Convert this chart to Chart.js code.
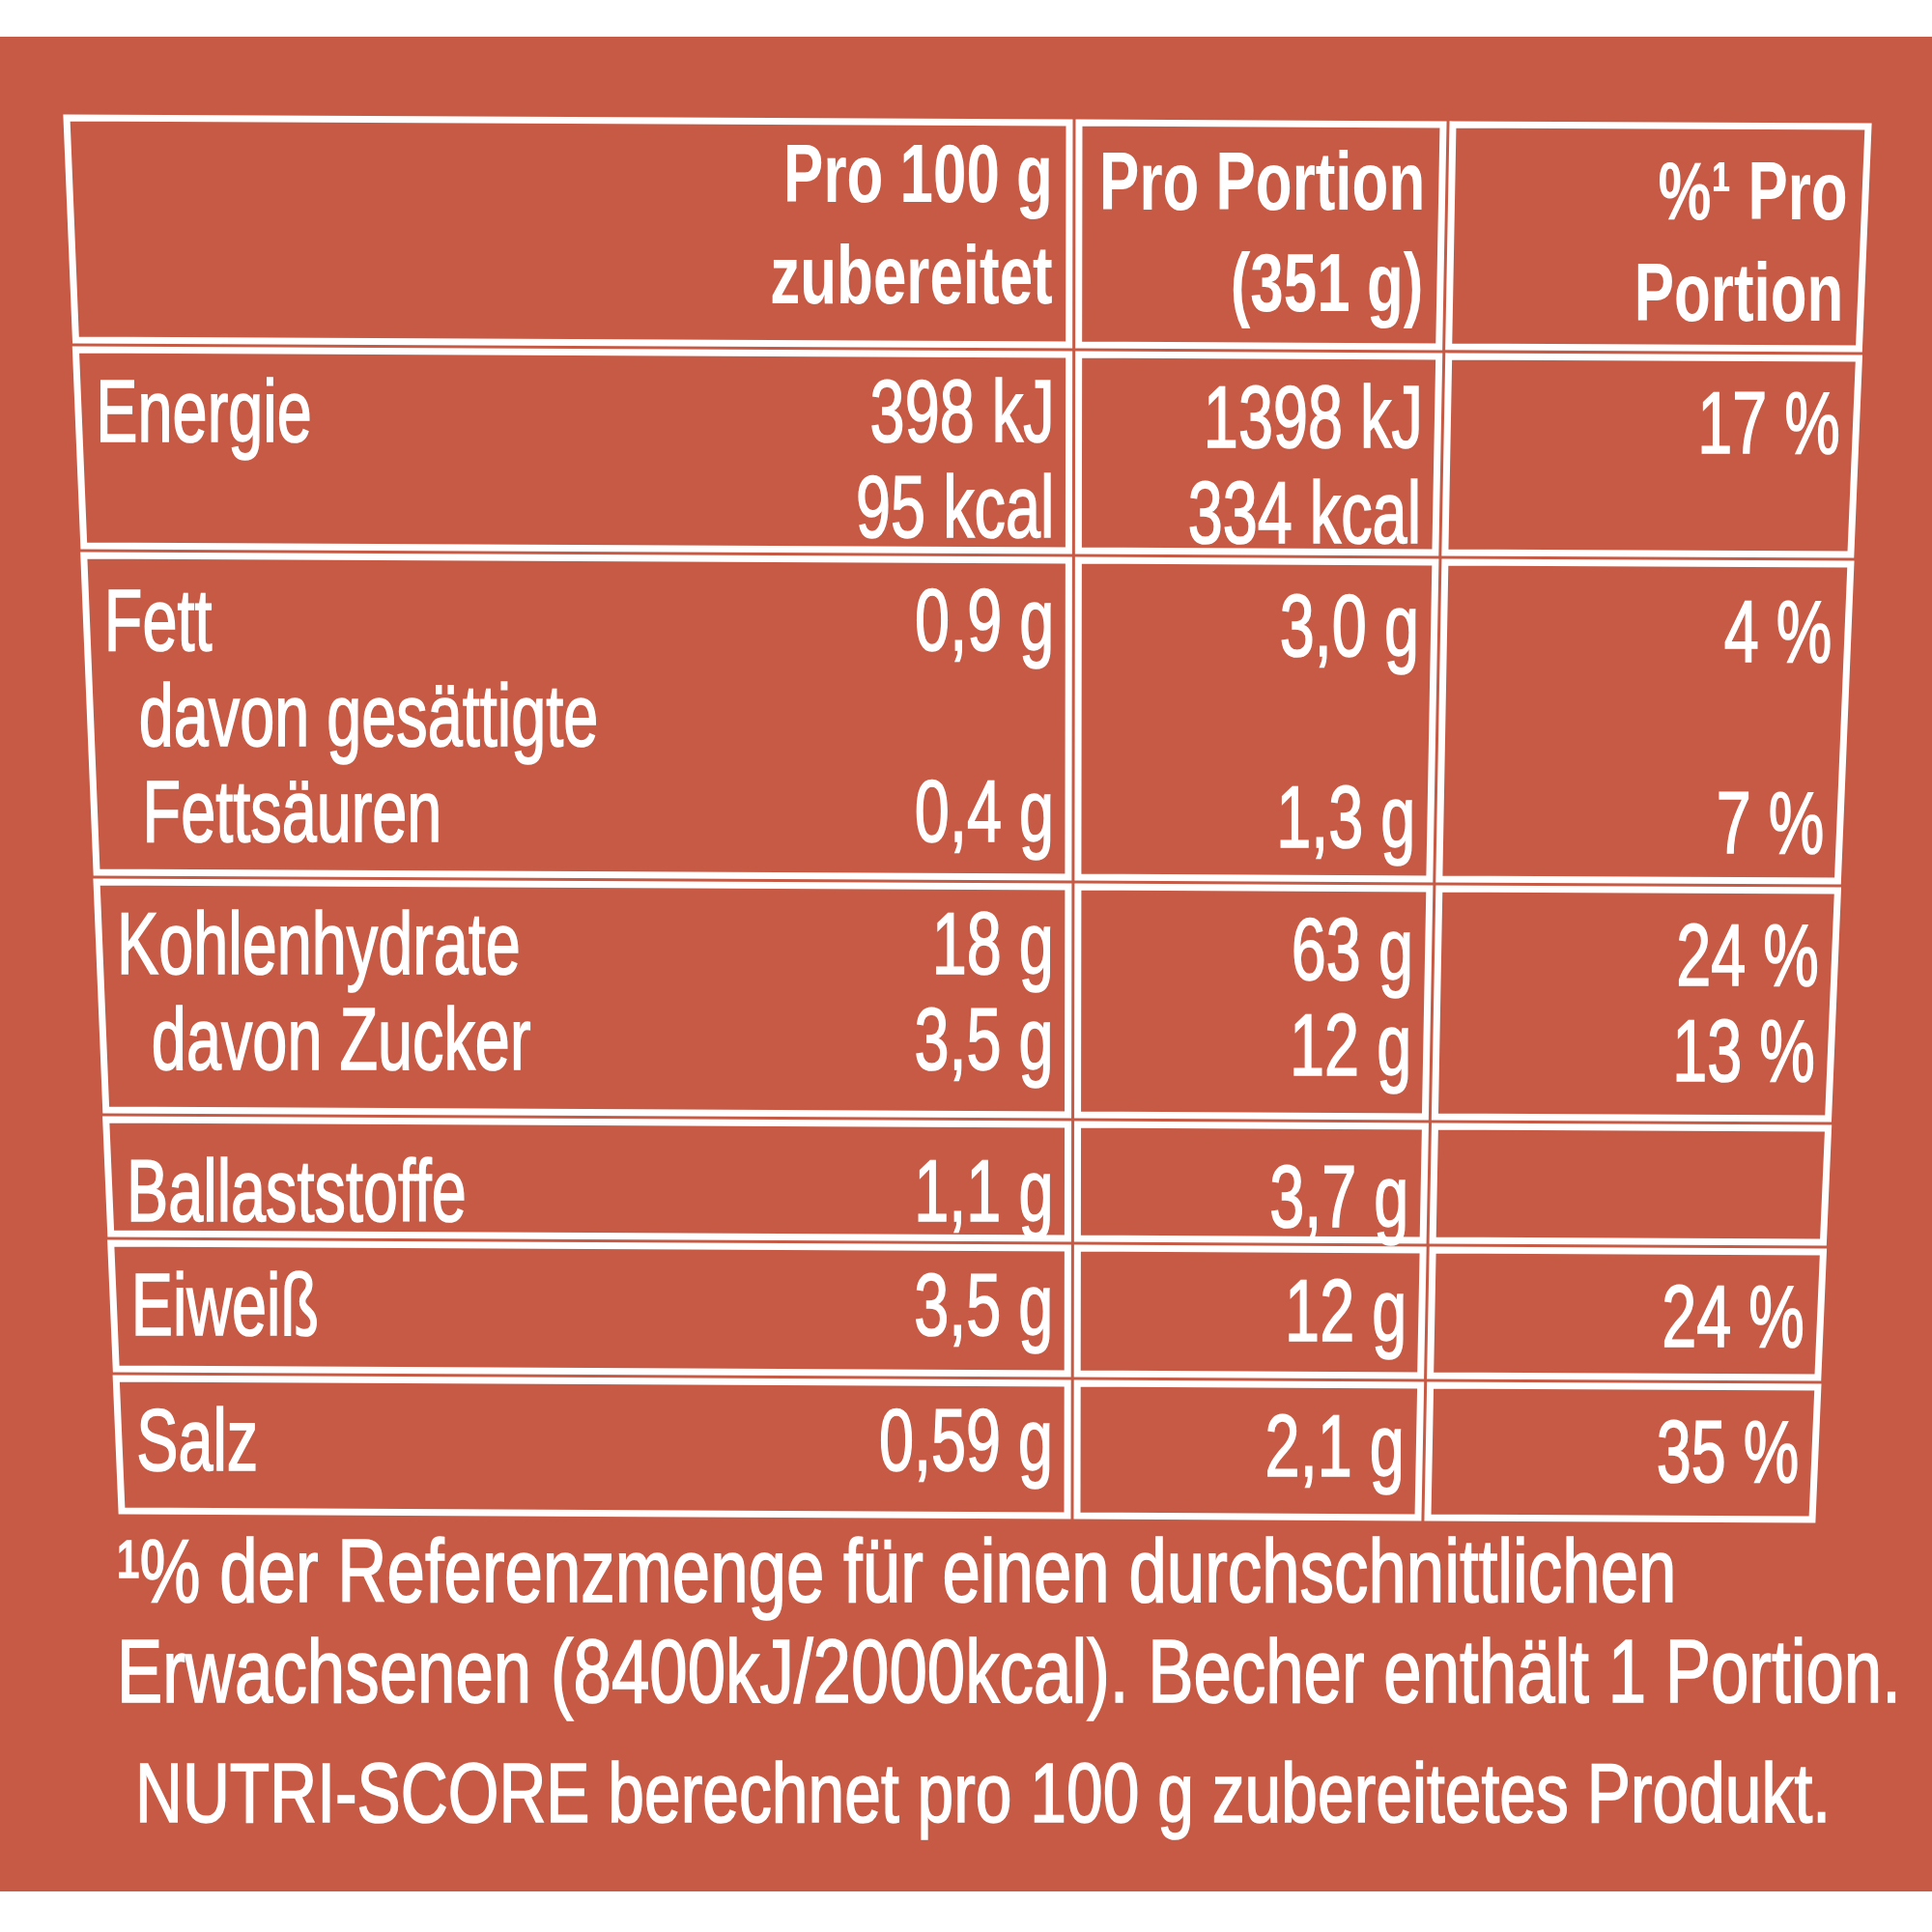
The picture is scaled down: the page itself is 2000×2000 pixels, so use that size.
<!DOCTYPE html>
<html><head><meta charset="utf-8">
<script src="https://cdn.jsdelivr.net/npm/chart.js@4.4.0/dist/chart.umd.min.js"></script>
<style>html,body{margin:0;background:#fff}#wrap{width:2000px;height:2000px}</style>
</head><body><div id="wrap"><canvas id="c" width="2000" height="2000"></canvas></div>
<script>
// data
const headers = [["Pro 100 g", "zubereitet"], ["Pro Portion", "(351 g)"], ["%¹ Pro", "Portion"]];
const labels = [["Energie"], ["Fett", " davon gesättigte", " Fettsäuren"], ["Kohlenhydrate", " davon Zucker"], ["Ballaststoffe"], ["Eiweiß"], ["Salz"]];
const per100 = [["398 kJ", "95 kcal"], ["0,9 g", "", "0,4 g"], ["18 g", "3,5 g"], ["1,1 g"], ["3,5 g"], ["0,59 g"]];
const perPortion = [["1398 kJ", "334 kcal"], ["3,0 g", "", "1,3 g"], ["63 g", "12 g"], ["3,7 g"], ["12 g"], ["2,1 g"]];
const percent = [["17 %"], ["4 %", "", "7 %"], ["24 %", "13 %"], [""], ["24 %"], ["35 %"]];
const footnote = ["¹% der Referenzmenge für einen durchschnittlichen", "Erwachsenen (8400kJ/2000kcal). Becher enthält 1 Portion.", "NUTRI-SCORE berechnet pro 100 g zubereitetes Produkt."];

// layout (pixels in scale units)
const rowLines = [117, 357, 570, 908, 1154, 1282, 1422, 1569];
const edgeTop = [64, 1112, 1499, 1939];
const edgeBot = [121, 1110, 1473, 1881];
const firstBase = [92, 100, 103, 100, 110, 100, 100];
const lineStep = 99;
const RED = '#c65a45';

const tablePlugin = {
  id: 'table',
  beforeDraw(chart) {
    const {ctx} = chart;
    ctx.save();
    ctx.fillStyle = '#fff'; ctx.fillRect(0, 0, 2000, 2000);
    ctx.fillStyle = RED;
    ctx.fillRect(0, chart.scales.y.getPixelForValue(38), 2000, chart.scales.y.getPixelForValue(1958) - chart.scales.y.getPixelForValue(38));
    ctx.restore();
  },
  afterDraw(chart) {
    const {ctx} = chart, xs = chart.scales.x, ys = chart.scales.y;
    const t0 = rowLines[0], t1 = rowLines[rowLines.length - 1];
    const colX = (c, yv) => { const t = (yv - t0) / (t1 - t0); return xs.getPixelForValue(edgeTop[c] + (edgeBot[c] - edgeTop[c]) * t); };
    const pt = (c, r) => {
      const yv = rowLines[r];
      const u = (colX(c, yv) - colX(0, yv)) / (colX(3, yv) - colX(0, yv));
      return [colX(c, yv), ys.getPixelForValue(yv + 9 * u)];
    };
    ctx.save();
    ctx.strokeStyle = '#fff'; ctx.lineWidth = 7; ctx.lineJoin = 'miter';
    const ins = 5;
    for (let r = 0; r < rowLines.length - 1; r++) {
      for (let c = 0; c < 3; c++) {
        const a = pt(c, r), b = pt(c + 1, r), d = pt(c + 1, r + 1), e = pt(c, r + 1);
        ctx.beginPath();
        ctx.moveTo(a[0] + ins, a[1] + ins); ctx.lineTo(b[0] - ins, b[1] + ins);
        ctx.lineTo(d[0] - ins, d[1] - ins); ctx.lineTo(e[0] + ins, e[1] - ins);
        ctx.closePath(); ctx.stroke();
      }
    }
    ctx.fillStyle = '#fff'; ctx.strokeStyle = '#fff'; ctx.textBaseline = 'alphabetic';
    const txt = (s, x, y, align, bold, size, sx) => {
      ctx.save();
      ctx.font = (bold ? 'bold ' : '') + size + 'px "Liberation Sans", Arial, sans-serif';
      ctx.translate(x, y); ctx.scale(sx || 0.72, 1);
      ctx.textAlign = align; ctx.fillText(s, 0, 0);
      if (!bold) { ctx.lineWidth = 1.6; ctx.strokeText(s, 0, 0); }
      ctx.restore();
    };
    const cols = [per100, perPortion, percent];
    // header
    for (let i = 0; i < 2; i++) {
      for (let c = 0; c < 3; c++) {
        const yv = rowLines[0] + firstBase[0] + i * 105 + (c === 2 ? 18 : c === 1 ? 8 : 0);
        txt(headers[c][i], colX(c + 1, yv) - 22, ys.getPixelForValue(yv), 'right', true, 86);
      }
    }
    for (let r = 1; r < rowLines.length - 1; r++) {
      const k = r - 1;
      const n = Math.max(labels[k].length, per100[k].length, perPortion[k].length, percent[k].length);
      for (let i = 0; i < n; i++) {
        const yv = rowLines[r] + firstBase[r] + i * lineStep;
        const s = labels[k][i];
        if (s) txt(s.trim(), colX(0, yv) + 22 + (s.startsWith(' ') ? 32 : 0), ys.getPixelForValue(yv), 'left', false, 90);
        for (let c = 0; c < 3; c++) {
          const v = cols[c][k][i];
          if (!v) continue;
          const yb = yv + (c === 2 ? 12 : c === 1 ? 6 : 0);
          txt(v, colX(c + 1, yb) - 20, ys.getPixelForValue(yb), 'right', false, 90);
        }
      }
    }
    txt(footnote[0], xs.getPixelForValue(121), ys.getPixelForValue(1658), 'left', false, 92, 0.77);
    txt(footnote[1], xs.getPixelForValue(121), ys.getPixelForValue(1762), 'left', false, 92, 0.77);
    txt(footnote[2], xs.getPixelForValue(140), ys.getPixelForValue(1886), 'left', false, 88, 0.77);
    ctx.restore();
  }
};

new Chart(document.getElementById('c'), {
  type: 'scatter',
  data: {datasets: [{data: []}]},
  options: {
    responsive: false, animation: false, devicePixelRatio: 1,
    layout: {padding: 0},
    plugins: {legend: {display: false}, tooltip: {enabled: false}},
    scales: {
      x: {type: 'linear', min: 0, max: 2000, display: false},
      y: {type: 'linear', min: 0, max: 2000, reverse: true, display: false}
    }
  },
  plugins: [tablePlugin]
});
</script></body></html>
